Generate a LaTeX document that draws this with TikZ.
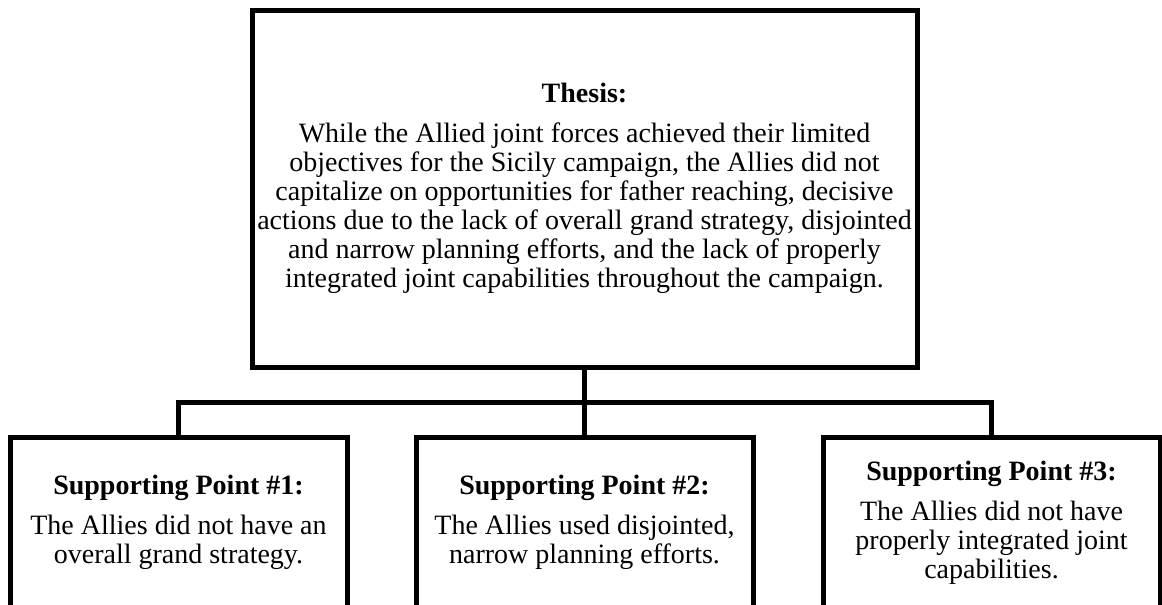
\documentclass[tikz,border=0pt]{standalone}
\usepackage{fontspec}
\setmainfont{Liberation Serif}
\usetikzlibrary{positioning}

\begin{document}
\begin{tikzpicture}[x=1pt,y=-1pt,
  box/.style={draw=black,line width=5pt,inner sep=0pt,outer sep=0pt,align=center,font=\fontsize{28}{29}\selectfont},
  thesisbox/.style={box,minimum width=665pt,minimum height=357pt},
  pointbox/.style={box,minimum width=337pt,minimum height=171pt},
  link/.style={line width=5pt}
]
\useasboundingbox (0,0) rectangle (1162,605);
\node[thesisbox] (thesis) at (584.5,188.5) {\textbf{Thesis:}\\[11pt]
  While the Allied joint forces achieved their limited\\
  objectives for the Sicily campaign, the Allies did not\\
  capitalize on opportunities for father reaching, decisive\\
  actions due to the lack of overall grand strategy, disjointed\\
  and narrow planning efforts, and the lack of properly\\
  integrated joint capabilities throughout the campaign.};
\node[pointbox,below=70pt of thesis] (sp2) {\textbf{Supporting Point \#2:}\\[11pt]
  The Allies used disjointed,\\ narrow planning efforts.};
\node[pointbox,left=69pt of sp2] (sp1) {\textbf{Supporting Point \#1:}\\[11pt]
  The Allies did not have an\\ overall grand strategy.};
\node[pointbox,right=70pt of sp2] (sp3) {\textbf{Supporting Point \#3:}\\[11pt]
  The Allies did not have\\ properly integrated joint\\ capabilities.};
% connectors
\path (thesis.south) ++(0,35) coordinate (bar);
\draw[link] (thesis.south) -- (sp2.north);
\draw[link] (bar) -| (sp1.north);
\draw[link] (bar) -| (sp3.north);
\end{tikzpicture}
\end{document}
